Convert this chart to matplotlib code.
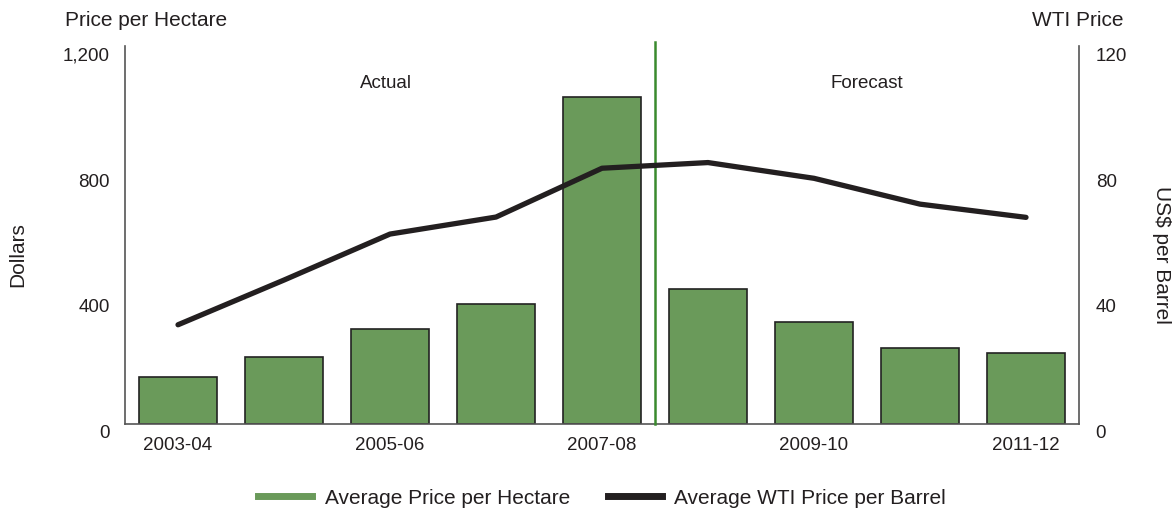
import matplotlib.pyplot as plt
from matplotlib.lines import Line2D
import matplotlib.transforms as mtransforms

plt.rcParams['font.family'] = ['Liberation Sans', 'DejaVu Sans']

# data
years = ["2003-04", "2004-05", "2005-06", "2006-07", "2007-08",
         "2008-09", "2009-10", "2010-11", "2011-12"]
price_per_hectare = [150, 214, 300, 381, 1037, 429, 324, 241, 225]
wti_price = [31.5, 45.7, 60.3, 65.7, 81.2, 83.0, 78.0, 69.8, 65.6]
shown_labels = ["2003-04", "", "2005-06", "", "2007-08", "", "2009-10", "", "2011-12"]
left_ticks = [0, 400, 800, 1200]
left_ticklabels = ["0", "400", "800", "1,200"]
right_ticks = [0, 40, 80, 120]
forecast_start = 4.5

bar_green = "#6a9a5a"
line_black = "#231f20"
text_col = "#231f20"
spine_col = "#555555"

fig = plt.figure(figsize=(11.75, 5.10), dpi=100)
ax = fig.add_axes([0.1064, 0.1667, 0.8119, 0.7411])
ax2 = ax.twinx()

x = list(range(len(years)))
ax.bar(x, price_per_hectare, width=0.73, color=bar_green, edgecolor="#222222",
       linewidth=1.2, zorder=2)
ax2.plot(x, wti_price, color=line_black, linewidth=3.8, solid_capstyle="round",
         zorder=3)

ax.axvline(forecast_start, ymin=0, ymax=1.01, color="#3a8a2e", linewidth=1.8,
           clip_on=False, zorder=3)

ax.set_xlim(-0.5, len(years) - 0.5)
ax.set_ylim(0, 1200)
ax2.set_ylim(0, 120)

ax.set_xticks(x)
ax.set_xticklabels(shown_labels, fontsize=13.5, color=text_col)
ax.set_yticks(left_ticks)
ax.set_yticklabels(left_ticklabels, fontsize=13.5, color=text_col)
ax2.set_yticks(right_ticks)
ax2.set_yticklabels([str(t) for t in right_ticks], fontsize=13.5, color=text_col)
ax.tick_params(axis="both", length=0, pad=11)
ax.tick_params(axis="x", pad=9)
ax2.tick_params(axis="y", length=0, pad=12)

# labels in reference sit a few pixels below tick positions
off = mtransforms.ScaledTranslation(0, -7 / 100, fig.dpi_scale_trans)
for lab in ax.get_yticklabels() + ax2.get_yticklabels():
    lab.set_transform(lab.get_transform() + off)

for a in (ax, ax2):
    a.spines["top"].set_visible(False)
    for s in ("left", "right", "bottom"):
        a.spines[s].set_color(spine_col)
        a.spines[s].set_linewidth(1.2)
ax.spines["right"].set_visible(False)
ax2.spines["left"].set_visible(False)
ax2.spines["bottom"].set_visible(False)

ax.text(1.96, 1083, "Actual", ha="center", va="center", fontsize=13.5, color=text_col)
ax.text(6.5, 1083, "Forecast", ha="center", va="center", fontsize=13.5, color=text_col)

fig.text(65 / 1175, 1 - 20 / 510, "Price per Hectare", ha="left", va="center",
         fontsize=15, color=text_col)
fig.text(1124 / 1175, 1 - 20 / 510, "WTI Price", ha="right", va="center",
         fontsize=15, color=text_col)
fig.text(18 / 1175, 1 - 255 / 510, "Dollars", rotation=90, ha="center", va="center",
         fontsize=15, color=text_col)
fig.text(1162 / 1175, 1 - 255 / 510, "US$ per Barrel", rotation=270, ha="center",
         va="center", fontsize=15, color=text_col)

handles = [Line2D([], [], color=bar_green, linewidth=5),
           Line2D([], [], color=line_black, linewidth=5)]
fig.legend(handles, ["Average Price per Hectare", "Average WTI Price per Barrel"],
           loc="center", bbox_to_anchor=(602 / 1175, 1 - 499 / 510), ncol=2,
           frameon=False, fontsize=15, handlelength=2.6, columnspacing=1.8,
           handletextpad=0.6, labelcolor=text_col)

fig.savefig("out.png", dpi=100)
